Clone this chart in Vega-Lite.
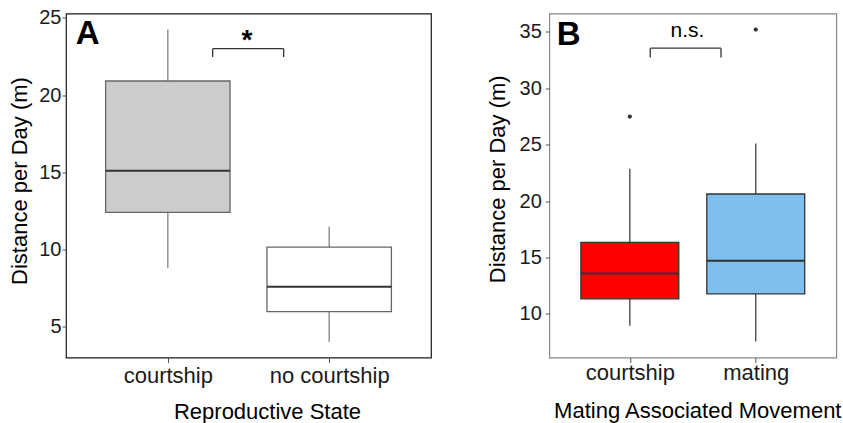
{
  "$schema": "https://vega.github.io/schema/vega-lite/v6.json",
  "padding": {"left": 7, "top": 6.5, "right": 2, "bottom": 0},
  "bounds": "flush",
  "spacing": 118.3,
  "config": {
    "font": "Liberation Sans",
    "axis": {"grid": false, "domain": false, "tickColor": "#555", "labelColor": "#1a1a1a", "titleColor": "#000", "labelFontSize": 20, "titleFontSize": 22, "titleFontWeight": "normal", "labelFont": "Liberation Sans", "titleFont": "Liberation Sans"},
    "axisX": {"labelFontSize": 22, "labelAngle": 0, "tickSize": 5, "labelBaseline": "alphabetic", "labelPadding": 20.3, "titleBaseline": "alphabetic", "titleAlign": "center"},
    "axisY": {"tickSize": 4, "labelPadding": 2, "titleBaseline": "alphabetic", "titleAlign": "center", "titleAngle": -90}
  },
  "resolve": {"scale": {"x": "independent", "y": "independent", "fill": "independent"}},
  "hconcat": [
    {
      "width": 365,
      "height": 344,
      "view": {"stroke": "#1a1a1a", "strokeWidth": 1.2},
      "layer": [
        {
          "data": {"values": [
            {"state": "courtship", "pos": 1, "lower": 8.77, "q1": 12.38, "median": 15.08, "q3": 20.91, "upper": 24.25},
            {"state": "no courtship", "pos": 2, "lower": 3.98, "q1": 5.95, "median": 7.56, "q3": 10.13, "upper": 11.45}
          ]},
          "layer": [
            {
              "mark": {"type": "rule", "color": "#8a8a8a", "strokeWidth": 1.4},
              "encoding": {
                "x": {"field": "pos", "type": "quantitative", "scale": {"domain": [0.4, 2.6], "nice": false, "zero": false},
                  "axis": {"values": [1, 2], "labelExpr": "datum.value == 1 ? 'courtship' : 'no courtship'", "title": "Reproductive State", "titleX": 201, "titleY": 60.5}},
                "y": {"field": "lower", "type": "quantitative", "scale": {"domain": [2.97, 25.29], "nice": false, "zero": false},
                  "axis": {"values": [5, 10, 15, 20, 25], "title": "Distance per Day (m)", "titleX": -39.7, "titleY": 167, "labelPadding": 1}},
                "y2": {"field": "upper"}
              }
            },
            {
              "mark": {"type": "bar", "width": 124.4, "stroke": "#666", "strokeWidth": 1.3},
              "encoding": {
                "x": {"field": "pos", "type": "quantitative", "scale": {"domain": [0.4, 2.6], "nice": false, "zero": false}},
                "y": {"field": "q1", "type": "quantitative", "scale": {"domain": [2.97, 25.29], "nice": false, "zero": false}},
                "y2": {"field": "q3"},
                "fill": {"field": "state", "type": "nominal", "scale": {"domain": ["courtship", "no courtship"], "range": ["#cccccc", "#ffffff"]}, "legend": null}
              }
            },
            {
              "mark": {"type": "tick", "orient": "horizontal", "size": 124.4, "thickness": 2, "color": "#333", "opacity": 1},
              "encoding": {
                "x": {"field": "pos", "type": "quantitative", "scale": {"domain": [0.4, 2.6], "nice": false, "zero": false}},
                "y": {"field": "median", "type": "quantitative", "scale": {"domain": [2.97, 25.29], "nice": false, "zero": false}}
              }
            }
          ]
        },
        {
          "data": {"values": [
            {"x": 1.278, "x2": 1.718, "y": 23.01, "y2": 23.01},
            {"x": 1.278, "x2": 1.278, "y": 22.47, "y2": 23.01},
            {"x": 1.718, "x2": 1.718, "y": 22.47, "y2": 23.01}
          ]},
          "mark": {"type": "rule", "color": "#333", "strokeWidth": 1.3},
          "encoding": {
            "x": {"field": "x", "type": "quantitative", "scale": {"domain": [0.4, 2.6], "nice": false, "zero": false}},
            "x2": {"field": "x2"},
            "y": {"field": "y", "type": "quantitative", "scale": {"domain": [2.97, 25.29], "nice": false, "zero": false}},
            "y2": {"field": "y2"}
          }
        },
        {
          "data": {"values": [{"x": 1.491, "y": 23.0, "label": "*"}]},
          "mark": {"type": "text", "fontSize": 28, "fontWeight": "bold", "align": "center", "baseline": "alphabetic", "color": "#000"},
          "encoding": {
            "x": {"field": "x", "type": "quantitative", "scale": {"domain": [0.4, 2.6], "nice": false, "zero": false}},
            "y": {"field": "y", "type": "quantitative", "scale": {"domain": [2.97, 25.29], "nice": false, "zero": false}},
            "text": {"field": "label"}
          }
        },
        {
          "data": {"values": [{"x": 0.43, "y": 23.34, "label": "A"}]},
          "mark": {"type": "text", "fontSize": 33, "fontWeight": "bold", "align": "left", "baseline": "alphabetic", "color": "#000"},
          "encoding": {
            "x": {"field": "x", "type": "quantitative", "scale": {"domain": [0.4, 2.6], "nice": false, "zero": false}},
            "y": {"field": "y", "type": "quantitative", "scale": {"domain": [2.97, 25.29], "nice": false, "zero": false}},
            "text": {"field": "label"}
          }
        }
      ]
    },
    {
      "width": 287,
      "height": 344,
      "view": {"stroke": "#888", "strokeWidth": 1.2},
      "layer": [
        {
          "data": {"values": [
            {"movement": "courtship", "pos": 1, "lower": 8.94, "q1": 11.33, "median": 13.58, "q3": 16.34, "upper": 22.87},
            {"movement": "mating", "pos": 2, "lower": 7.54, "q1": 11.77, "median": 14.71, "q3": 20.62, "upper": 25.09}
          ]},
          "layer": [
            {
              "mark": {"type": "rule", "color": "#333", "strokeWidth": 1.2},
              "encoding": {
                "x": {"field": "pos", "type": "quantitative", "scale": {"domain": [0.4, 2.6], "nice": false, "zero": false},
                  "axis": {"values": [1, 2], "labelExpr": "datum.value == 1 ? 'courtship' : 'mating'", "title": "Mating Associated Movement", "titleX": 148, "titleY": 59.5, "labelPadding": 17}},
                "y": {"field": "lower", "type": "quantitative", "scale": {"domain": [6.13, 36.62], "nice": false, "zero": false},
                  "axis": {"values": [10, 15, 20, 25, 30, 35], "title": "Distance per Day (m)", "titleX": -45.3, "titleY": 165.3, "labelPadding": 4}},
                "y2": {"field": "upper"}
              }
            },
            {
              "mark": {"type": "bar", "width": 97.9, "stroke": "#333", "strokeWidth": 1.3},
              "encoding": {
                "x": {"field": "pos", "type": "quantitative", "scale": {"domain": [0.4, 2.6], "nice": false, "zero": false}},
                "y": {"field": "q1", "type": "quantitative", "scale": {"domain": [6.13, 36.62], "nice": false, "zero": false}},
                "y2": {"field": "q3"},
                "fill": {"field": "movement", "type": "nominal", "scale": {"domain": ["courtship", "mating"], "range": ["#ff0000", "#7fbfee"]}, "legend": null}
              }
            },
            {
              "mark": {"type": "tick", "orient": "horizontal", "size": 97.9, "thickness": 2, "color": "#333", "opacity": 1},
              "encoding": {
                "x": {"field": "pos", "type": "quantitative", "scale": {"domain": [0.4, 2.6], "nice": false, "zero": false}},
                "y": {"field": "median", "type": "quantitative", "scale": {"domain": [6.13, 36.62], "nice": false, "zero": false}}
              }
            }
          ]
        },
        {
          "data": {"values": [{"pos": 1, "value": 27.48}, {"pos": 2, "value": 35.2}]},
          "mark": {"type": "circle", "size": 18, "color": "#333", "opacity": 1},
          "encoding": {
            "x": {"field": "pos", "type": "quantitative", "scale": {"domain": [0.4, 2.6], "nice": false, "zero": false}},
            "y": {"field": "value", "type": "quantitative", "scale": {"domain": [6.13, 36.62], "nice": false, "zero": false}}
          }
        },
        {
          "data": {"values": [
            {"x": 1.162, "x2": 1.724, "y": 33.55, "y2": 33.55},
            {"x": 1.162, "x2": 1.162, "y": 32.72, "y2": 33.55},
            {"x": 1.724, "x2": 1.724, "y": 32.72, "y2": 33.55}
          ]},
          "mark": {"type": "rule", "color": "#333", "strokeWidth": 1.3},
          "encoding": {
            "x": {"field": "x", "type": "quantitative", "scale": {"domain": [0.4, 2.6], "nice": false, "zero": false}},
            "x2": {"field": "x2"},
            "y": {"field": "y", "type": "quantitative", "scale": {"domain": [6.13, 36.62], "nice": false, "zero": false}},
            "y2": {"field": "y2"}
          }
        },
        {
          "data": {"values": [{"x": 1.457, "y": 34.52, "label": "n.s."}]},
          "mark": {"type": "text", "fontSize": 21, "align": "center", "baseline": "alphabetic", "color": "#000"},
          "encoding": {
            "x": {"field": "x", "type": "quantitative", "scale": {"domain": [0.4, 2.6], "nice": false, "zero": false}},
            "y": {"field": "y", "type": "quantitative", "scale": {"domain": [6.13, 36.62], "nice": false, "zero": false}},
            "text": {"field": "label"}
          }
        },
        {
          "data": {"values": [{"x": 0.42, "y": 33.87, "label": "B"}]},
          "mark": {"type": "text", "fontSize": 33, "fontWeight": "bold", "align": "left", "baseline": "alphabetic", "color": "#000"},
          "encoding": {
            "x": {"field": "x", "type": "quantitative", "scale": {"domain": [0.4, 2.6], "nice": false, "zero": false}},
            "y": {"field": "y", "type": "quantitative", "scale": {"domain": [6.13, 36.62], "nice": false, "zero": false}},
            "text": {"field": "label"}
          }
        }
      ]
    }
  ]
}
